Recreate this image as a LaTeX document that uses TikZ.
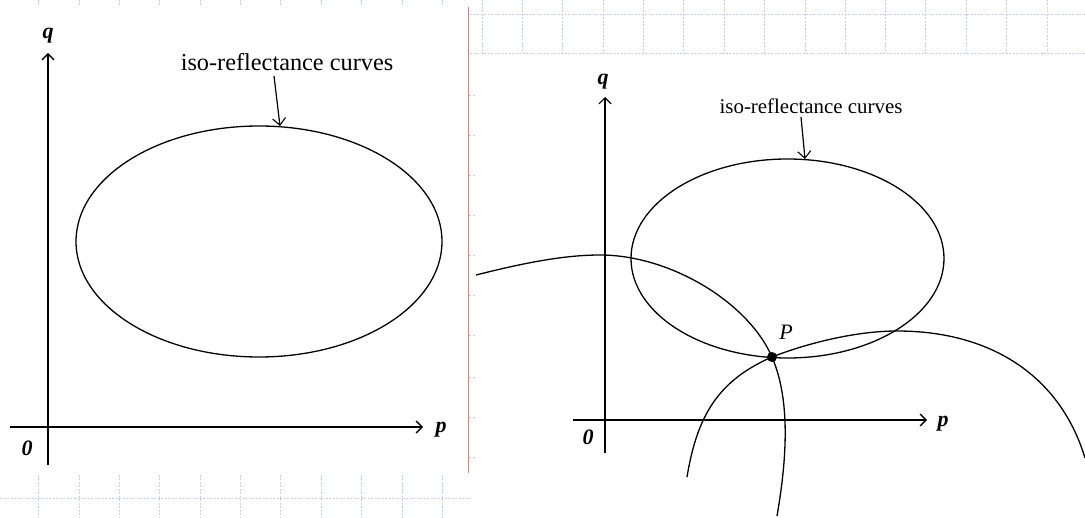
\documentclass[tikz,border=0pt]{standalone}
\usepackage{fontspec}
\setmainfont{Liberation Serif}
\usetikzlibrary{arrows.meta}
\definecolor{gridblue}{RGB}{196,208,240}
\definecolor{sepred}{RGB}{240,120,120}
\tikzset{
  gridline/.style={draw=gridblue, line width=0.7pt, dash pattern=on 2pt off 1.5pt},
  axisline/.style={line width=1.6pt, -{Straight Barb[length=6pt,width=12pt,line width=1.3pt]}},
  axislinethin/.style={line width=1.2pt, -{Straight Barb[length=6pt,width=12pt,line width=1.2pt]}},
  curve/.style={line width=1.3pt},
  pointer/.style={line width=1.2pt, -{Straight Barb[length=7pt,width=13pt,line width=1.1pt]}},
  axlabel/.style={inner sep=0pt, font=\fontsize{22}{26}\selectfont\bfseries\itshape},
  bigtext/.style={inner sep=0pt, font=\fontsize{24.3}{28}\selectfont},
  smalltext/.style={inner sep=0pt, font=\fontsize{20.9}{25}\selectfont},
}
\begin{document}
\begin{tikzpicture}[x=1pt,y=-1pt]
\useasboundingbox (0,0) rectangle (1085,518);
% background grids
\foreach \gx in {38,79,119,159,200,240,280,321,361,402,442}{
  \draw[gridline] (\gx,475) -- (\gx,518);
  \draw[gridline] (\gx,0) -- (\gx,5);
}
\draw[gridline] (0,498) -- (472,498);
\foreach \gx in {482,522,562,603,643,683,724,764,805,845,885,925,966,1006,1047}{
  \draw[gridline] (\gx,0) -- (\gx,53);
}
\draw[gridline] (470,14) -- (1085,14);
\draw[gridline] (470,53) -- (1085,53);
\foreach \gy in {95,135,175,215,255,295,335,377,417,457}{
  \draw[gridline] (469,\gy) -- (476,\gy);
}
% separator
\draw[sepred, line width=1pt] (468,7) -- (468,473);

% ---------- left panel ----------
\coordinate (lYs) at (48,465);
\coordinate (lYe) at (48,53);
\coordinate (lXs) at (10,427);
\coordinate (lXe) at (423,427);
\draw[axisline] (lYs) -- (lYe);
\draw[axisline] (lXs) -- (lXe);
\node[axlabel] (lq) at (48,36) {q};
\node[axlabel] (lp) at (441,430) {p};
\node[axlabel] (l0) at (27,448) {0};
\draw[curve] (259,241.5) ellipse [x radius=183, y radius=115.5];
\node[bigtext] (ltext) at (287,62) {iso-reflectance curves};
\coordinate (lptr) at (274,76);
\coordinate (ltop) at (280,126);
\draw[pointer] (lptr) -- (ltop);

% ---------- right panel ----------
\coordinate (rYs) at (605,453);
\coordinate (rYe) at (605,97);
\coordinate (rXs) at (573,420);
\coordinate (rXe) at (927,420);
\draw[axislinethin] (rYs) -- (rYe);
\draw[axisline, line width=2pt] (rXs) -- (rXe);
\node[axlabel] (rq) at (603,82) {q};
\node[axlabel] (rp) at (943,424) {p};
\node[axlabel] (r0) at (588,437) {0};
\draw[curve] (787.5,258.5) ellipse [x radius=156.5, y radius=99.5];
\node[smalltext] (rtext) at (811,106) {iso-reflectance curves};
\coordinate (rptr) at (801,117);
\coordinate (rtop) at (805,159);
\draw[pointer] (rptr) -- (rtop);

\coordinate (Pc) at (772,357);
% left arc through P
\coordinate (la) at (476,275);
\coordinate (lt) at (600,255);
\coordinate (le) at (777,516);
\draw[curve] (la) .. controls (516,265) and (560,255) .. (lt)
  .. controls (670,255) and (748,302) .. (Pc)
  .. controls (792,403) and (785.5,466.7) .. (le);
% right arc through P
\coordinate (ra) at (687,477);
\coordinate (rt) at (897,331);
\coordinate (re) at (1085,458);
\draw[curve] (ra) .. controls (696.8,417.8) and (716.6,381.1) .. (Pc)
  .. controls (808.9,342.6) and (857,331) .. (rt)
  .. controls (992,331) and (1060.4,376.7) .. (re);
\node[circle, fill=black, minimum size=10pt, inner sep=0pt] (P) at (Pc) {};
\node[inner sep=0pt, font=\fontsize{22}{26}\selectfont\itshape] (Plabel) at (786,332) {P};
\end{tikzpicture}
\end{document}
